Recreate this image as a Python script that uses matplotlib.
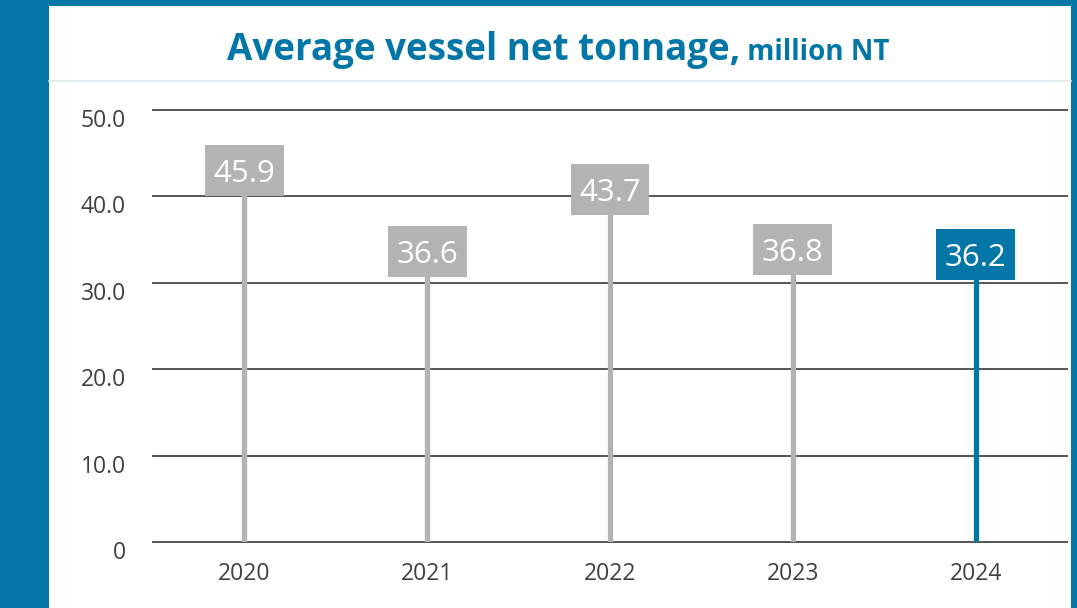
import matplotlib
matplotlib.use("Agg")
import matplotlib.pyplot as plt
from matplotlib.patches import Rectangle
from matplotlib.lines import Line2D
import numpy as np

# net tonnage per year, million NT
years = ["2020", "2021", "2022", "2023", "2024"]
tonnage = [45.9, 36.6, 43.7, 36.8, 36.2]
y_ticks = [0, 10, 20, 30, 40, 50]
y_tick_labels = ["0", "10.0", "20.0", "30.0", "40.0", "50.0"]

BLUE = "#0277a7"
GREY = "#b3b3b3"
TEXT = "#404040"

plt.rcParams["font.family"] = ["Open Sans", "DejaVu Sans"]

W, H = 1077, 608
fig = plt.figure(figsize=(W / 100, H / 100), dpi=100)
fig.patch.set_facecolor(BLUE)

# white panel inside the blue frame
fig.patches.append(Rectangle((49 / W, 0), 1022 / W, 602 / H, transform=fig.transFigure,
                             facecolor="white", edgecolor="none", zorder=-10))
# thin rule under the title
fig.lines.append(Line2D([49 / W, 1071 / W], [1 - 81 / H, 1 - 81 / H], transform=fig.transFigure,
                        color="#dfe7ed", lw=1.2, zorder=-5))

ax = fig.add_axes([153 / W, 66 / H, 914 / W, 432 / H])
ax.set_facecolor("none")
x = np.arange(len(years))
ax.set_xlim(-0.5, len(years) - 0.5)
ax.set_ylim(0, 50)

for v in y_ticks:
    ax.axhline(v, color="#555555", lw=1.4, zorder=1, clip_on=False)

colors = [GREY] * (len(years) - 1) + [BLUE]
ax.vlines(x, 0, tonnage, colors=colors, lw=3.8, zorder=2)

# value boxes hang from the top of each stem
box_h = 5.9
box_w = 0.43
vals = np.array(tonnage)
ax.bar(x, box_h, bottom=vals - box_h, width=box_w, color=colors, zorder=3)
for xi, v in zip(x, tonnage):
    ax.text(xi, v - box_h / 2, f"{v:.1f}", ha="center", va="center_baseline",
            color="white", fontsize=22.5, zorder=4)

for s in ax.spines.values():
    s.set_visible(False)
ax.set_yticks([])
ax.set_xticks([])

for v, lab in zip(y_ticks, y_tick_labels):
    ax.annotate(lab, xy=(0, v), xycoords=("axes fraction", "data"),
                xytext=(-27, -11), textcoords="offset pixels",
                ha="right", va="center", fontsize=16.5, color=TEXT)
for xi, lab in zip(x, years):
    ax.annotate(lab, xy=(xi, 0), xycoords=("data", "axes fraction"),
                xytext=(0, -32), textcoords="offset pixels",
                ha="center", va="center", fontsize=16.5, color=TEXT)

# two-part title: bold main text plus smaller unit
t1 = fig.text(0, 1 - 60 / H, "Average vessel net tonnage,", fontsize=26.5, fontweight="bold",
              color=BLUE, ha="left", va="baseline")
t2 = fig.text(0, 1 - 60 / H, " million NT", fontsize=20, fontweight="bold",
              color=BLUE, ha="left", va="baseline")
fig.canvas.draw()
r = fig.canvas.get_renderer()
w1 = t1.get_window_extent(r).width
w2 = t2.get_window_extent(r).width
x0 = 558 - (w1 + w2) / 2
t1.set_x(x0 / W)
t2.set_x((x0 + w1) / W)

fig.savefig("out.png", dpi=100, facecolor=fig.get_facecolor())
